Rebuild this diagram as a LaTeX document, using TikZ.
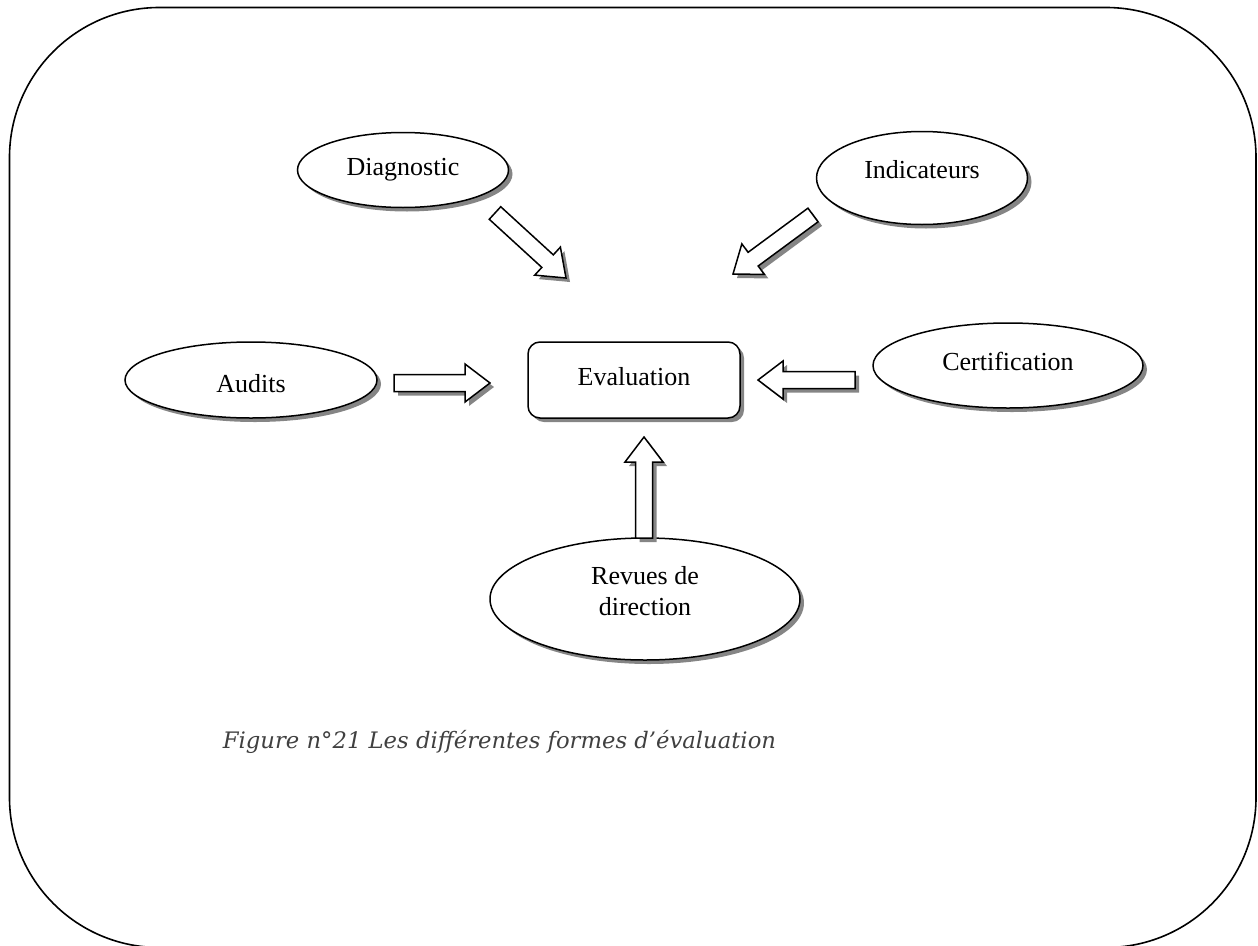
\documentclass[tikz,border=0pt]{standalone}
\usepackage{fontspec}
\setmainfont{Liberation Serif}
\newfontfamily\capfont{DejaVu Serif}
\usetikzlibrary{shapes.geometric,shadows,calc}

% block arrow geometry
\newcommand\baShaft{8.5pt}
\newcommand\baHead{19pt}
\newcommand\baHeadLen{25pt}
% raise node text without changing its box
\newcommand\lift[2]{\raisebox{#1}[\height][\depth]{#2}}

% outline of a block arrow from tail #1 to tip #2
\newcommand\bapath[2]{($(#1)!\baShaft!90:(#2)$) -- ($(#2-hb)!\baShaft!-90:(#1)$)
  -- ($(#2-hb)!\baHead!-90:(#1)$) -- (#2) -- ($(#2-hb)!\baHead!90:(#1)$)
  -- ($(#2-hb)!\baShaft!90:(#1)$) -- ($(#1)!\baShaft!-90:(#2)$) -- cycle}
\newcommand\blockarrow[2]{%
  \coordinate (#2-hb) at ($(#2)!\baHeadLen!(#1)$);
  \fill[arrowshadow] \bapath{#1}{#2};
  \filldraw[arrowbody] \bapath{#1}{#2};
}

\definecolor{shadowgray}{HTML}{858585}
\definecolor{captiongray}{HTML}{404040}

\begin{document}
\begin{tikzpicture}[x=1pt,y=-1pt,
  every node/.style={font=\fontsize{26}{31}\selectfont},
  shadowed/.style={draw, fill=white, line width=1.5pt, inner sep=0pt,
    drop shadow={shadow xshift=4pt, shadow yshift=-4pt, fill=shadowgray, opacity=1}},
  bubble/.style={shadowed, ellipse},
  centerbox/.style={shadowed, rectangle, rounded corners=12pt},
  arrowbody/.style={fill=white, draw=black, line width=1.5pt, line join=miter},
  arrowshadow/.style={fill=shadowgray, transform canvas={xshift=4pt, yshift=-4pt}},
  framestyle/.style={draw=black, line width=1.6pt, rounded corners=150pt},
]
\useasboundingbox (0,0) rectangle (1258,945);

% outer frame (its lower edge runs just past the page)
\path[framestyle] (9.5,7.5) rectangle (1256,947.5);

% central box and surrounding forms
\node[centerbox, minimum width=212pt, minimum height=76pt] (eval) at (634,380) {\lift{3pt}{Evaluation}};
\node[bubble, minimum width=211pt, minimum height=75pt] (diag) at (403,170) {Diagnostic};
\node[bubble, minimum width=211pt, minimum height=93pt] (ind) at (922,178) {\lift{8pt}{Indicateurs}};
\node[bubble, minimum width=252pt, minimum height=76pt] (aud) at (251,380) {\lift{-4pt}{Audits}};
\node[bubble, minimum width=270pt, minimum height=85pt] (cert) at (1008,365.5) {\lift{4pt}{Certification}};
\node[bubble, minimum width=310pt, minimum height=122pt] (rev) at (645,599)
  {\lift{5pt}{\begin{tabular}{@{}c@{}}Revues de\\direction\end{tabular}}};

% arrow ends
\coordinate (diag-t) at (495,213);   \coordinate (diag-h) at (566,278);
\coordinate (ind-t)  at (813,215);   \coordinate (ind-h)  at (733,274);
\coordinate (aud-t)  at (394,383);   \coordinate (aud-h)  at (490,383);
\coordinate (cert-t) at (855,380);   \coordinate (cert-h) at (758,380);
\coordinate (rev-t)  at (644,538);   \coordinate (rev-h)  at (644,437);

% block arrows pointing to the evaluation
\blockarrow{diag-t}{diag-h}
\blockarrow{ind-t}{ind-h}
\blockarrow{aud-t}{aud-h}
\blockarrow{cert-t}{cert-h}
\blockarrow{rev-t}{rev-h}

% caption
\node[anchor=base, text=captiongray, font=\capfont\itshape\fontsize{22.7}{27}\selectfont]
  (cap) at (499.5,748) {Figure n°21 Les différentes formes d’évaluation};
\end{tikzpicture}
\end{document}
